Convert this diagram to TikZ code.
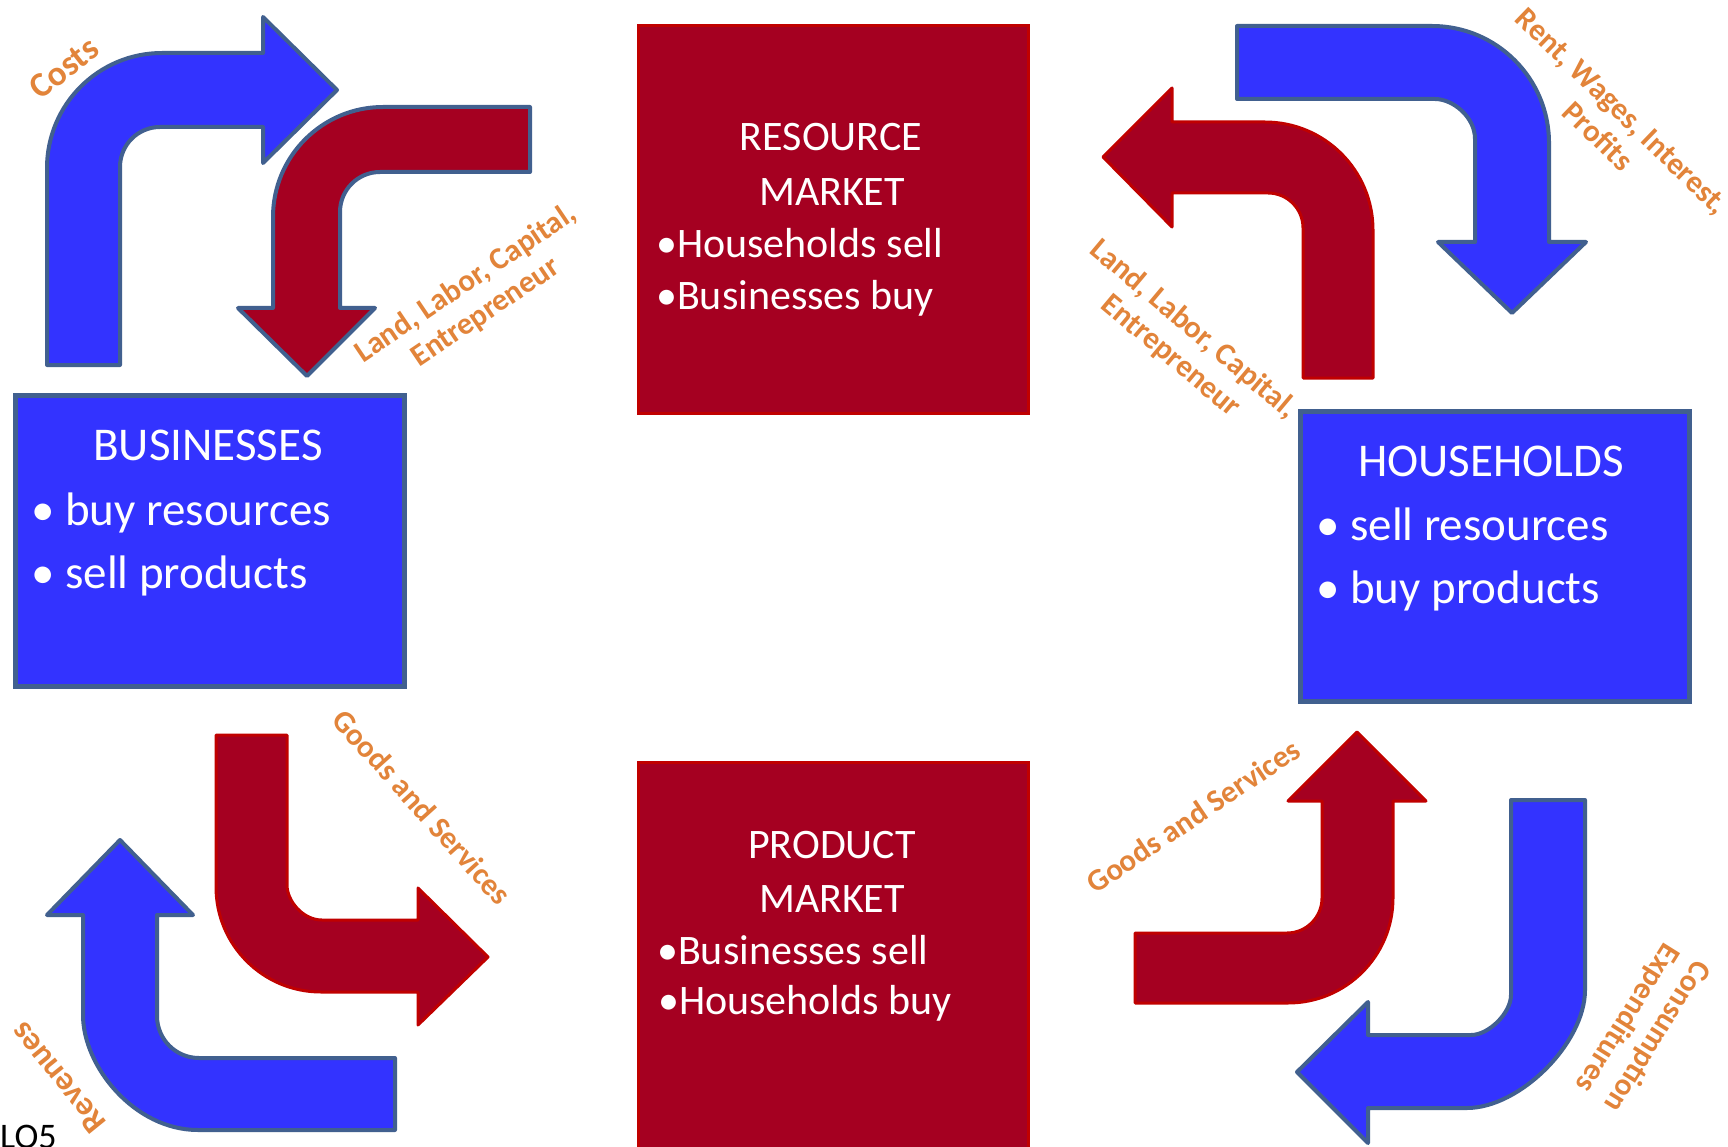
\documentclass[tikz,border=0pt]{standalone}
\usepackage{fontspec}
\setmainfont{Carlito}
\definecolor{bfill}{RGB}{51,51,255}
\definecolor{steel}{RGB}{65,96,143}
\definecolor{rfill}{RGB}{165,0,33}
\definecolor{rline}{RGB}{192,0,0}
\definecolor{lblc}{RGB}{226,132,58}
\definecolor{bggray}{RGB}{234,234,234}
\pgfdeclareradialshading{bgshade}{\pgfpoint{0bp}{0bp}}{color(0bp)=(white); color(38bp)=(white); color(58bp)=(bggray); color(90bp)=(bggray)}
\tikzset{
  bluearrow/.style={fill=bfill, draw=steel, line width=4pt, line join=round},
  redarrow/.style={fill=rfill, draw=rline, line width=3pt, line join=round},
  redarrowsteel/.style={fill=rfill, draw=steel, line width=4pt, line join=round},
  bluebox/.style={rectangle, fill=bfill, draw=steel, line width=5pt, anchor=north west, inner sep=0pt},
  redbox/.style={rectangle, fill=rfill, draw=rline, line width=3pt, anchor=north west, inner sep=0pt},
  bigtext/.style={text=white, inner sep=0pt, font=\fontsize{47}{60}\selectfont},
  midtext/.style={text=white, inner sep=0pt, font=\fontsize{42}{52}\selectfont},
  flowlabel/.style={text=lblc, inner sep=0pt, align=center, font=\bfseries\fontsize{31}{35}\selectfont}
}
\begin{document}
\begin{tikzpicture}[x=1pt,y=-1pt]
\useasboundingbox (0,0) rectangle (1728,1147);
\shade[shading=bgshade] (0,0) rectangle (1728,1147);

% boxes
\node[bluebox, minimum width=389pt, minimum height=291pt] (bus) at (13,393) {};
\node[bluebox, minimum width=389pt, minimum height=290pt] (hh) at (1298,409) {};
\node[redbox, minimum width=390pt, minimum height=388pt] (rm) at (637,24) {};
\node[redbox, minimum width=390pt, minimum height=400pt] (pm) at (637,761) {};

% box texts
\node[bigtext, anchor=base] (bust) at (208,460) {BUSINESSES};
\node[bigtext, anchor=base west] (bus1) at (31,525) {• buy resources};
\node[bigtext, anchor=base west] (bus2) at (31,588) {• sell products};
\node[bigtext, anchor=base] (hht) at (1491,476) {HOUSEHOLDS};
\node[bigtext, anchor=base west] (hh1) at (1316,540) {• sell resources};
\node[bigtext, anchor=base west] (hh2) at (1316,603) {• buy products};
\node[midtext, anchor=base] (rmt1) at (831,151) {RESOURCE};
\node[midtext, anchor=base] (rmt2) at (832,206) {MARKET};
\node[midtext, anchor=base west] (rm1) at (656,258) {•Households sell};
\node[midtext, anchor=base west] (rm2) at (656,309) {•Businesses buy};
\node[midtext, anchor=base] (pmt1) at (832,858) {PRODUCT};
\node[midtext, anchor=base] (pmt2) at (832,912) {MARKET};
\node[midtext, anchor=base west] (pm1) at (657,964) {•Businesses sell};
\node[midtext, anchor=base west] (pm2) at (658,1014) {•Households buy};

% arrow 1: blue, Costs (top-left)
\draw[bluearrow] (47,365) -- (47,168) .. controls (47,104.5) and (98.5,53) .. (162,53)
  -- (263,53) -- (263,17) -- (337,90) -- (263,163) -- (263,127) -- (160,127)
  .. controls (137.9,127) and (120,144.9) .. (120,167) -- (120,365) -- cycle;
% arrow 2: red, resources to businesses (top-left)
\draw[redarrowsteel] (530,107) -- (383,107) .. controls (322.3,107) and (273,156.3) .. (273,217)
  -- (273,308) -- (238,308) -- (307,376) -- (375,308) -- (340,308) -- (340,212)
  .. controls (340,189.9) and (357.9,172) .. (380,172) -- (530,172) -- cycle;
% arrow 3: red, goods from businesses (bottom-left)
\draw[redarrow] (216,735) -- (216,887) .. controls (216,945) and (263,992) .. (321,992)
  -- (418,992) -- (418,1025) -- (488,957) -- (418,888) -- (418,920) -- (322,920)
  .. controls (302.7,920) and (287,900.7) .. (287,885) -- (287,735) -- cycle;
% arrow 4: blue, revenues (bottom-left)
\draw[bluearrow] (120,840) -- (193,915) -- (157,915) -- (157,1016)
  .. controls (157,1039.2) and (175.8,1058) .. (199,1058) -- (395,1058) -- (395,1130)
  -- (198,1130) .. controls (134.5,1130) and (83,1066.5) .. (83,1015) -- (83,915) -- (47,915) -- cycle;
% arrow 5: blue, incomes (top-right)
\draw[bluearrow] (1237,26) -- (1432,26) .. controls (1496.6,26) and (1549,78.4) .. (1549,143)
  -- (1549,242) -- (1586,242) -- (1512,313) -- (1438,242) -- (1475,242) -- (1475,139)
  .. controls (1475,116.9) and (1452.9,99) .. (1435,99) -- (1237,99) -- cycle;
% arrow 6: red, resources from households (top-right)
\draw[redarrow] (1373,378) -- (1373,230) .. controls (1373,170.4) and (1324.6,122) .. (1265,122)
  -- (1172,122) -- (1172,88) -- (1103,157) -- (1172,227) -- (1172,193) -- (1268,193)
  .. controls (1287.3,193) and (1303,208.7) .. (1303,228) -- (1303,378) -- cycle;
% arrow 7: red, goods to households (bottom-right)
\draw[redarrow] (1357,732) -- (1426,801) -- (1393,801) -- (1393,898)
  .. controls (1393,956) and (1346,1003) .. (1288,1003) -- (1135,1003) -- (1135,933) -- (1287,933)
  .. controls (1306.3,933) and (1322,917.3) .. (1322,898) -- (1322,801) -- (1288,801) -- cycle;
% arrow 8: blue, consumption expenditures (bottom-right)
\draw[bluearrow] (1511,800) -- (1585,800) -- (1585,990) .. controls (1585,1042.9) and (1519.9,1108) .. (1467,1108)
  -- (1368,1108) -- (1368,1143) -- (1297,1072) -- (1368,1002) -- (1368,1035) -- (1471,1035)
  .. controls (1488.9,1035) and (1511,1012.9) .. (1511,995) -- cycle;

% flow labels
\node[flowlabel, rotate=38, font=\bfseries\fontsize{35}{30}\selectfont] (costs) at (64,68) {Costs};
\node[flowlabel, rotate=34] (lblL) at (476,298) {Land, Labor, Capital,\\Entrepreneur};
\node[flowlabel, rotate=-44] (lblrent) at (1610,124) {Rent, Wages, Interest,\\Profits};
\node[flowlabel, rotate=-40] (lblR) at (1182,343) {Land, Labor, Capital,\\Entrepreneur};
\node[flowlabel, rotate=-48] (gsL) at (422,807) {Goods and Services};
\node[flowlabel, rotate=34] (gsR) at (1193,816) {Goods and Services};
\node[flowlabel, rotate=-122] (cons) at (1642,1027) {Consumption\\Expenditures};
\node[flowlabel, rotate=129, font=\bfseries\fontsize{33}{30}\selectfont] (rev) at (58,1078) {Revenues};

\node[anchor=base west, inner sep=0pt, font=\fontsize{36}{40}\selectfont] (lo) at (0,1148) {LO5};
\end{tikzpicture}
\end{document}
